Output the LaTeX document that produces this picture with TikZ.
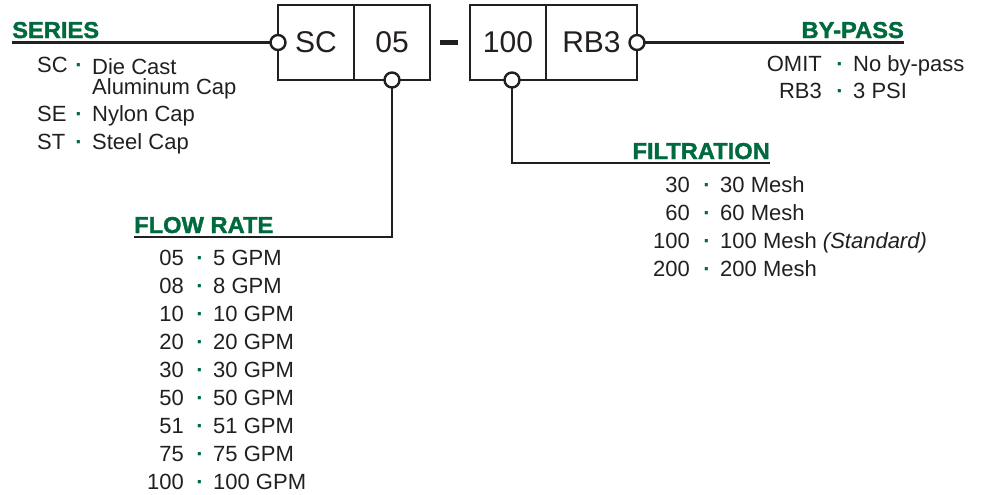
\documentclass[tikz,border=0pt]{standalone}
\usepackage{fontspec}
\setmainfont{Liberation Sans}
\newfontfamily\hdrfont{Liberation Sans}[BoldFeatures={FakeBold=1.6, FakeStretch=1.03}]
\usetikzlibrary{positioning}
\definecolor{hdrgreen}{RGB}{0,106,62}
\definecolor{inkgray}{RGB}{35,31,32}
\tikzset{
  cell/.style={rectangle, draw=inkgray, line width=2pt, minimum width=76pt, minimum height=75pt, inner sep=0pt, outer sep=0pt, text=inkgray, font=\fontsize{30}{34}\selectfont},
  hdr/.style={anchor=base west, inner sep=0pt, text=hdrgreen, font=\hdrfont\fontsize{23}{26}\selectfont\bfseries},
  code/.style={anchor=base east, inner sep=0pt, text=inkgray, font=\fontsize{22}{20}\selectfont},
  desc/.style={code, anchor=base west},
  dotsep/.style={anchor=base, inner sep=0pt, text=hdrgreen, font=\fontsize{22}{20}\selectfont\bfseries},
  pin/.style={circle, draw=inkgray, fill=white, line width=2.4pt, minimum size=15pt, inner sep=0pt},
  lead/.style={draw=inkgray, line width=2.8pt},
  bar/.style={draw=inkgray, line width=4.5pt}
}
\begin{document}
\begin{tikzpicture}[x=1pt,y=-1pt]
\useasboundingbox (0,0) rectangle (982,495);
\node[cell] (sc) at (316,42.5) {SC};
\node[cell, right=0pt of sc] (fr) {05};
\node[cell, right=40pt of fr] (mesh) {100};
\node[cell, minimum width=91pt, right=0pt of mesh] (bp) {RB3};
\draw[bar] ([xshift=10pt]fr.east) -- ([xshift=28pt]fr.east);

\node[hdr] (ser) at (12,38) {SERIES};
\node[hdr, anchor=base east] (byp) at (904,38) {BY-PASS};
\node[hdr, anchor=base east] (flt) at (770,159) {FILTRATION};
\node[hdr] (flw) at (134,233) {FLOW RATE};

\draw[lead] (sc.west) -- (sc.west -| ser.west);
\draw[lead] (bp.east) -- (bp.east -| byp.east);
\draw[lead] (fr.south) |- ([yshift=-4pt]flw.base west);
\draw[lead] ([xshift=4pt]mesh.south) |- ([yshift=-4pt]flt.base east);
\foreach \a/\n in {sc.west/p1, fr.south/p2, bp.east/p4}
  \node[pin] (\n) at (\a) {};
\node[pin] (p3) at ([xshift=4pt]mesh.south) {};

\foreach \c/\d/\y/\z [count=\i] in {SC/{Die Cast\\Aluminum Cap}/73/94, SE/Nylon Cap/121/121, ST/Steel Cap/149/149}{
  \node[code, anchor=base west] (sc\i) at (37,\y) {\c};
  \node[dotsep] (sd\i) at (79,\y) {·};
  \node[desc, align=left] (sx\i) at (92,\z) {\d};
}
\foreach \c/\d [count=\i from 0] in {OMIT/No by-pass, RB3/3 PSI}{
  \node[code] (bc\i) at (822,71+27*\i) {\c};
  \node[dotsep] (bd\i) at (840,71+27*\i) {·};
  \node[desc] (bx\i) at (853,71+27*\i) {\d};
}
\foreach \c/\d [count=\i from 0] in {30/30 Mesh, 60/60 Mesh, 100/100 Mesh \textit{(Standard)}, 200/200 Mesh}{
  \node[code] (mc\i) at (690,192+28*\i) {\c};
  \node[dotsep] (md\i) at (707,192+28*\i) {·};
  \node[desc] (mx\i) at (720,192+28*\i) {\d};
}
\foreach \c/\d [count=\i from 0] in {05/5 GPM, 08/8 GPM, 10/10 GPM, 20/20 GPM, 30/30 GPM, 50/50 GPM, 51/51 GPM, 75/75 GPM, 100/100 GPM}{
  \node[code] (fc\i) at (184,265+28*\i) {\c};
  \node[dotsep] (fd\i) at (200,265+28*\i) {·};
  \node[desc] (fx\i) at (213,265+28*\i) {\d};
}
\end{tikzpicture}
\end{document}
